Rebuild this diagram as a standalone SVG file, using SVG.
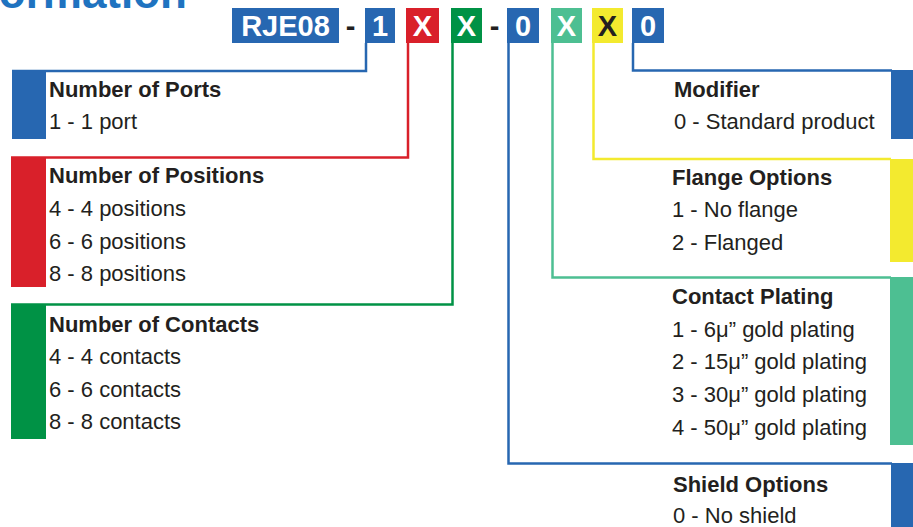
<svg xmlns="http://www.w3.org/2000/svg" width="913" height="527" viewBox="0 0 913 527">
<style>
.t{font-family:"Liberation Sans",Arial,sans-serif;fill:#231f20;font-size:22px}
.h{font-weight:bold}
.k{font-family:"Liberation Sans",Arial,sans-serif;font-weight:bold;font-size:29px;fill:#fff;text-anchor:middle}
.c{fill:none;stroke-width:2.5}
.blue{fill:#2767b1}.red{fill:#d9202a}.green{fill:#009245}.teal{fill:#4dbf92}.yellow{fill:#f3ea2f}
</style>
<rect width="913" height="527" fill="#fff"/>
<text x="187" y="8" font-family="Liberation Sans,Arial,sans-serif" font-weight="bold" font-size="44" fill="#1f73c0" text-anchor="end">Information</text>

<g id="code">
<rect class="blue" x="232" y="8" width="107" height="35"/>
<text class="k" x="285.5" y="36">RJE08</text>
<text class="k" x="350.5" y="36" style="fill:#231f20">-</text>
<rect class="blue" x="365" y="8" width="30" height="35"/>
<text class="k" x="380" y="36">1</text>
<rect class="red" x="406" y="8" width="33" height="35"/>
<text class="k" x="422.5" y="36">X</text>
<rect class="green" x="451" y="8" width="31" height="35"/>
<text class="k" x="466.5" y="36">X</text>
<text class="k" x="494.5" y="36" style="fill:#231f20">-</text>
<rect class="blue" x="507" y="8" width="32" height="35"/>
<text class="k" x="523" y="36">0</text>
<rect class="teal" x="551" y="8" width="31" height="35"/>
<text class="k" x="566.5" y="36">X</text>
<rect class="yellow" x="592" y="8" width="31" height="35"/>
<text class="k" x="607.5" y="36" style="fill:#231f20">X</text>
<rect class="blue" x="632" y="8" width="32" height="35"/>
<text class="k" x="648" y="36">0</text>
</g>

<g id="connectors">
<path class="c" stroke="#2767b1" d="M366 43V71H12"/>
<path class="c" stroke="#d9202a" d="M408 43V157.5H11"/>
<path class="c" stroke="#009245" d="M452.5 43V304.5H11"/>
<path class="c" stroke="#2767b1" d="M508.5 43V463.5H892"/>
<path class="c" stroke="#4dbf92" d="M552.5 43V277.5H891"/>
<path class="c" stroke="#f3ea2f" d="M593.5 43V159H891"/>
<path class="c" stroke="#2767b1" d="M633 43V70.5H892"/>
</g>

<g id="ports">
<rect class="blue" x="12" y="70" width="34" height="69"/>
<text class="t h" x="49" y="97">Number of Ports</text>
<text class="t" x="49" y="129">1 - 1 port</text>
</g>
<g id="positions">
<rect class="red" x="11" y="157" width="35" height="130"/>
<text class="t h" x="49" y="183">Number of Positions</text>
<text class="t" x="49" y="216">4 - 4 positions</text>
<text class="t" x="49" y="249">6 - 6 positions</text>
<text class="t" x="49" y="281">8 - 8 positions</text>
</g>
<g id="contacts">
<rect class="green" x="11" y="304" width="35" height="135"/>
<text class="t h" x="49" y="332">Number of Contacts</text>
<text class="t" x="49" y="364">4 - 4 contacts</text>
<text class="t" x="49" y="397">6 - 6 contacts</text>
<text class="t" x="49" y="429">8 - 8 contacts</text>
</g>
<g id="modifier">
<rect class="blue" x="891" y="70" width="22" height="69"/>
<text class="t h" x="674" y="97">Modifier</text>
<text class="t" x="674" y="129">0 - Standard product</text>
</g>
<g id="flange">
<rect class="yellow" x="890" y="159" width="23" height="103"/>
<text class="t h" x="672" y="185">Flange Options</text>
<text class="t" x="672" y="217">1 - No flange</text>
<text class="t" x="672" y="250">2 - Flanged</text>
</g>
<g id="plating">
<rect class="teal" x="890" y="277" width="23" height="168"/>
<text class="t h" x="672" y="304">Contact Plating</text>
<text class="t" x="672" y="337">1 - 6μ” gold plating</text>
<text class="t" x="672" y="369">2 - 15μ” gold plating</text>
<text class="t" x="672" y="402">3 - 30μ” gold plating</text>
<text class="t" x="672" y="435">4 - 50μ” gold plating</text>
</g>
<g id="shield">
<rect class="blue" x="891" y="463" width="22" height="64"/>
<text class="t h" x="673" y="492">Shield Options</text>
<text class="t" x="673" y="523">0 - No shield</text>
</g>
</svg>
